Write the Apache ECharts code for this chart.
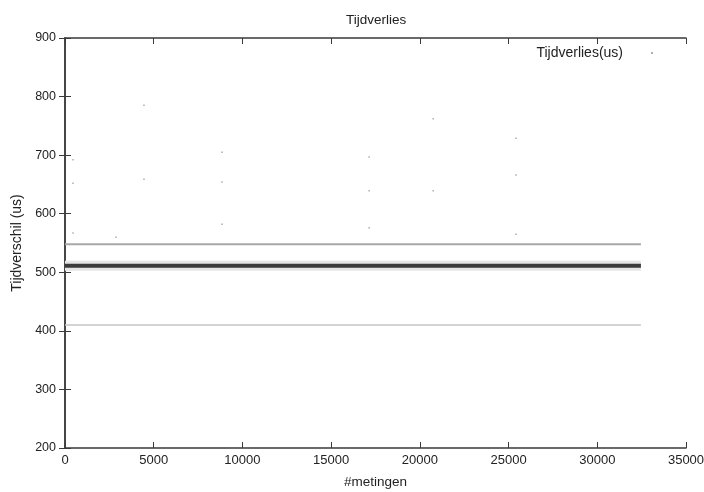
<!DOCTYPE html>
<html><head><meta charset="utf-8">
<script src="https://cdn.jsdelivr.net/npm/echarts@6/dist/echarts.min.js"></script>
<style>html,body{margin:0;padding:0;background:#fff}#c{width:704px;height:492px}</style>
</head><body><div id="c"></div>
<script>
// Data
const xTicks = [0, 5000, 10000, 15000, 20000, 25000, 30000, 35000];
const yTicks = [200, 300, 400, 500, 600, 700, 800, 900];
const measureRange = [0, 32460];           // first and last measurement index
const bandUpper = 548;                      // dense band of measurements (us)
const bandMain = 511;
const bandLower = 410;
const outlierX = [450, 450, 450, 2875, 4450, 4450, 8850, 8850, 8850, 17140, 17140, 17140, 20750, 20750, 25420, 25420, 25420];
const outlierY = [692, 652, 567, 560, 785, 659, 705, 654, 582, 697, 639, 576, 762, 639, 729, 666, 565];

const font = 'Liberation Sans, Arial, sans-serif';
const txt = '#222';
const frame = '#3a3a3a';

function band(level) { return measureRange.map(x => [x, level]); }

const chart = echarts.init(document.getElementById('c'), null, {renderer: 'canvas'});
const axisCommon = {
  type: 'value',
  axisLine: {show: true, lineStyle: {color: frame, width: 1.5}},
  axisTick: {show: true, inside: true, length: 6, lineStyle: {color: frame, width: 1}},
  splitLine: {show: false}
};
chart.setOption({
  animation: false,
  backgroundColor: '#fff',
  title: {text: 'Tijdverlies', left: 341, top: 8,
    textStyle: {fontFamily: font, fontSize: 13.5, fontWeight: 'normal', color: txt}},
  legend: {
    data: ['Tijdverlies(us)'], right: 46, top: 41, align: 'right',
    icon: 'rect', itemWidth: 2, itemHeight: 2,
    textStyle: {fontFamily: font, fontSize: 14, color: txt, padding: [0, 23, 0, 0]}
  },
  grid: {left: 65, right: 18, top: 38, bottom: 44, containLabel: false, outerBoundsMode: 'none'},
  xAxis: [
    Object.assign({}, axisCommon, {
      min: 0, max: 35000, interval: 5000, position: 'bottom',
      name: '#metingen', nameLocation: 'middle', nameGap: 27,
      nameTextStyle: {fontFamily: font, fontSize: 13.5, color: txt},
      axisLabel: {fontFamily: font, fontSize: 13, color: txt, margin: 6,
        formatter: v => xTicks.includes(v) ? String(v) : ''}
    }),
    Object.assign({}, axisCommon, {
      min: 0, max: 35000, interval: 5000, position: 'top', axisLabel: {show: false}
    })
  ],
  yAxis: [
    Object.assign({}, axisCommon, {
      min: 200, max: 900, interval: 100, position: 'left',
      name: 'Tijdverschil (us)', nameLocation: 'middle', nameGap: 36, nameRotate: 90,
      nameTextStyle: {fontFamily: font, fontSize: 14, color: txt},
      axisLabel: {fontFamily: font, fontSize: 12.5, color: txt, margin: 9,
        formatter: v => yTicks.includes(v) ? String(v) : ''}
    }),
    Object.assign({}, axisCommon, {
      min: 200, max: 900, interval: 100, position: 'right', axisLabel: {show: false}
    })
  ],
  series: [
    {type: 'line', name: 'halo', data: band(bandMain), symbol: 'none', silent: true,
      lineStyle: {color: '#e6e6e6', width: 10}},
    {type: 'line', name: 'upper', data: band(bandUpper), symbol: 'none', silent: true,
      lineStyle: {color: '#a8a8a8', width: 2}},
    {type: 'line', name: 'lower', data: band(bandLower), symbol: 'none', silent: true,
      lineStyle: {color: '#c4c4c4', width: 1.5}},
    {type: 'line', name: 'main', data: band(bandMain), symbol: 'none', silent: true,
      lineStyle: {color: '#3c3c3c', width: 4}},
    {type: 'scatter', name: 'Tijdverlies(us)', symbol: 'rect', symbolSize: 1.5,
      itemStyle: {color: '#999'},
      data: outlierX.map((x, i) => [x, outlierY[i]])}
  ]
});
</script></body></html>
